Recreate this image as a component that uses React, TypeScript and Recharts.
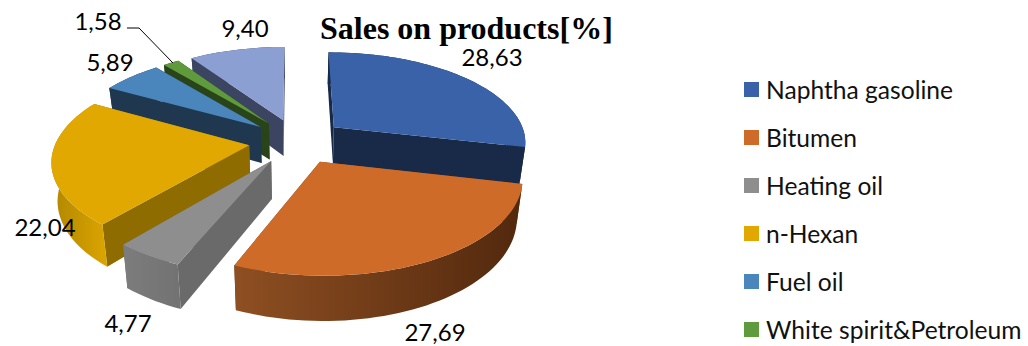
import React from "react";
import { Legend, Pie, PieChart } from "recharts";

const categories = [
  "Naphtha gasoline",
  "Bitumen",
  "Heating oil",
  "n-Hexan",
  "Fuel oil",
  "White spirit&Petroleum",
  "Other",
];
const shares = [28.63, 27.69, 4.77, 22.04, 5.89, 1.58, 9.4];

const topColors = ["#3A62A8", "#CF6B28", "#8E8E8E", "#E0A800", "#4A86BC", "#5F9A3C", "#8C9FD2"];
const innerWallColors = ["#182A48", "#6E3A14", "#6A6A6A", "#8E6C00", "#1F3850", "#2A441A", "#3B4460"];
const outerWallLeft = ["#182A48", "#8E4F22", "#7C7C7C", "#B58A00", "#1F3850", "#2A441A", "#3B4460"];
const outerWallRight = ["#182A48", "#53290E", "#727272", "#DCA500", "#1F3850", "#2A441A", "#3B4460"];

// back slices first so the front ones cover them
const drawOrder = [6, 5, 4, 3, 0, 2, 1];

const labelSpots = [
  [492, 66],
  [435, 341],
  [128, 332],
  [45, 236],
  [110, 71],
  [98, 30],
  [245, 37],
];

const tableData = categories.map((name, i) => ({ name, value: shares[i] }));

const RX = 193;
const RY = 90;
const PERSPECTIVE = 0.15;
const EXPLODE = 0.25;
const DEPTH = 37;
const SKIRT = 0.975;
const RAD = Math.PI / 180;

function SliceShape(props: any) {
  const { cx, cy, startAngle, endAngle, index } = props;
  // clockwise degrees from twelve o'clock
  const a0 = 90 - startAngle;
  const a1 = 90 - endAngle;
  const mid = ((a0 + a1) / 2) * RAD;
  const ox = Math.sin(mid) * EXPLODE;
  const oy = -Math.cos(mid) * EXPLODE;

  const project = (u: number, v: number, low: boolean) => {
    const U = ox + u;
    const V = oy + v;
    const s = 1 / (1 - PERSPECTIVE * V);
    const x = RX * U * s;
    const y = RY * V * s;
    return low ? [cx + x * SKIRT, cy + y + DEPTH * s] : [cx + x, cy + y];
  };
  const rim = (deg: number, low: boolean) =>
    project(Math.sin(deg * RAD), -Math.cos(deg * RAD), low);

  const steps = Math.max(2, Math.ceil(Math.abs(a1 - a0) / 2));
  const angles = Array.from({ length: steps + 1 }, (_, k) => a0 + ((a1 - a0) * k) / steps);
  const toPath = (pts: number[][]) => "M" + pts.map((p) => p.map((n) => n.toFixed(1)).join(",")).join("L") + "Z";

  const apexTop = project(0, 0, false);
  const apexLow = project(0, 0, true);
  const rimTop = angles.map((a) => rim(a, false));
  const rimLow = angles.map((a) => rim(a, true));

  const wallFor = (deg: number) => toPath([apexTop, rim(deg, false), rim(deg, true), apexLow]);
  // nearer radial wall goes on last
  const walls = [a0, a1].sort((p, q) => -Math.cos(p * RAD) + Math.cos(q * RAD));

  const xs = rimLow.map((p) => p[0]);
  const gradId = `wall-${index}`;

  return (
    <g>
      <defs>
        <linearGradient
          id={gradId}
          gradientUnits="userSpaceOnUse"
          x1={Math.min(...xs)}
          x2={Math.max(...xs)}
          y1={0}
          y2={0}
        >
          <stop offset="0%" stopColor={outerWallLeft[index]} />
          <stop offset="100%" stopColor={outerWallRight[index]} />
        </linearGradient>
      </defs>
      {walls.map((deg) => (
        <path key={deg} d={wallFor(deg)} fill={innerWallColors[index]} />
      ))}
      <path d={toPath([...rimTop, ...[...rimLow].reverse()])} fill={`url(#${gradId})`} />
      <path d={toPath([apexTop, ...rimTop])} fill={topColors[index]} />
    </g>
  );
}

function SliceLabel(props: any) {
  const { index, value } = props;
  const [x, y] = labelSpots[index];
  return (
    <g>
      {index === 5 && <polyline points="127,28 139,28 173,63" fill="none" stroke="#000" strokeWidth={1} />}
      <text x={x} y={y} textAnchor="middle" fontFamily="Lato" fontSize={24} fill="#000">
        {value.toFixed(2).replace(".", ",")}
      </text>
    </g>
  );
}

function LegendList() {
  return (
    <div style={{ fontFamily: "Lato", fontSize: 24.6, color: "#111" }}>
      {categories.slice(0, 6).map((name, i) => (
        <div key={name} style={{ display: "flex", alignItems: "center", height: 48, whiteSpace: "nowrap" }}>
          <span style={{ width: 15, height: 15, background: topColors[i], marginRight: 7 }} />
          {name}
        </div>
      ))}
    </div>
  );
}

export default function App() {
  return (
    <div style={{ position: "absolute", left: 0, top: 0, width: 1028, height: 346, overflow: "hidden", background: "#fff" }}>
      <PieChart width={1028} height={346} margin={{ top: 0, right: 0, bottom: 0, left: 0 }}>
        {drawOrder.map((slot) => (
          <Pie
            key={slot}
            data={tableData}
            dataKey="value"
            nameKey="name"
            cx={297}
            cy={141}
            outerRadius={RX}
            startAngle={90.2}
            endAngle={-269.8}
            stroke="none"
            isAnimationActive={false}
            labelLine={false}
            shape={(p: any) => (p.index === slot ? <SliceShape {...p} /> : <g />)}
            label={(p: any) => (p.index === slot ? <SliceLabel {...p} /> : <g />)}
          />
        ))}
        <text x={320} y={39} fontFamily="Liberation Serif" fontWeight="bold" fontSize={32} fill="#000">
          Sales on products[%]
        </text>
        <Legend
          content={<LegendList />}
          wrapperStyle={{ position: "absolute", left: 744, top: 65, width: 284, height: 290 }}
        />
      </PieChart>
    </div>
  );
}
